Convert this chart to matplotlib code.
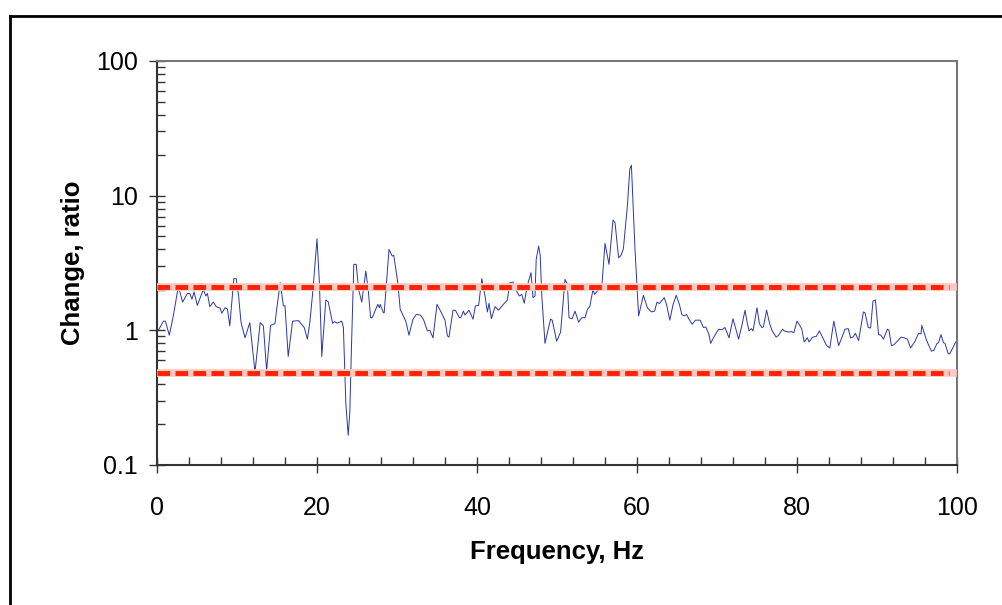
import matplotlib.pyplot as plt
from matplotlib.ticker import FixedLocator, NullFormatter
from matplotlib.lines import Line2D

plt.rcParams['font.family'] = ['Liberation Sans', 'DejaVu Sans']

freq = [0.0, 0.8, 1.05, 1.54, 2.04, 2.67, 3.2, 3.8, 4.1, 4.37, 4.63, 5.04, 5.79, 6.1, 6.3, 6.6,
        7.04, 7.4, 7.9, 8.1, 8.5, 8.8, 9.1, 9.6, 9.9, 10.2, 10.5, 11.0, 11.6, 12.25, 12.9, 13.3,
        13.7, 14.2, 14.75, 14.9, 15.4, 15.8, 16.0, 16.4, 16.95, 17.7, 18.4, 18.8, 19.1, 19.5,
        20.0, 20.3, 20.6, 21.1, 21.4, 21.95, 22.2, 22.5, 23.1, 23.3, 23.6, 23.9, 24.1, 24.3,
        24.6, 24.9, 25.2, 25.6, 26.1, 26.4, 26.7, 26.9, 27.6, 27.8, 27.9, 28.3, 28.4, 29.0,
        29.4, 29.6, 30.1, 30.4, 31.1, 31.5, 32.0, 32.4, 32.9, 33.3, 33.8, 34.1, 34.5, 35.0,
        35.5, 36.0, 36.3, 36.5, 37.0, 37.3, 37.8, 38.0, 38.3, 38.5, 39.0, 39.5, 39.8, 40.2,
        40.6, 41.0, 41.3, 41.5, 41.8, 42.25, 42.7, 43.3, 43.8, 44.1, 44.5, 45.0, 45.3, 45.6,
        45.9, 46.3, 46.75, 47.0, 47.25, 47.4, 47.7, 47.9, 48.1, 48.5, 48.8, 49.2, 49.4, 49.96,
        50.45, 51.0, 51.3, 51.5, 51.9, 52.25, 52.7, 53.1, 53.5, 53.8, 54.1, 54.5, 54.7, 55.2,
        55.6, 56.0, 56.5, 57.0, 57.25, 57.7, 58.0, 58.3, 58.5, 58.8, 59.1, 59.3, 59.75, 60.0,
        60.2, 60.8, 61.3, 61.8, 62.2, 62.5, 62.8, 63.4, 63.7, 64.1, 64.5, 64.9, 65.3, 65.6,
        65.9, 66.2, 66.5, 66.9, 67.3, 67.9, 68.3, 68.6, 69.0, 69.2, 69.6, 70.2, 70.6, 71.0,
        71.5, 72.0, 72.3, 72.7, 73.1, 73.5, 73.8, 74.0, 74.3, 74.5, 75.0, 75.3, 75.6, 75.8,
        76.2, 76.6, 76.9, 77.4, 77.7, 78.2, 78.4, 79.0, 79.3, 79.6, 80.0, 80.3, 80.6, 80.9,
        81.3, 81.5, 81.95, 82.4, 82.8, 83.3, 83.7, 84.1, 84.6, 85.2, 85.6, 86.0, 86.4, 86.7,
        87.0, 87.3, 87.7, 88.3, 88.5, 88.9, 89.2, 89.5, 89.8, 90.2, 90.5, 90.8, 91.3, 91.5,
        91.8, 92.1, 92.45, 93.0, 93.4, 93.8, 94.2, 94.7, 95.2, 95.5, 95.6, 95.8, 96.2, 96.8,
        97.1, 97.5, 97.7, 98.0, 98.3, 98.5, 98.9, 99.1, 99.75, 100.0]

change = [0.96, 1.17, 1.17, 0.92, 1.28, 2.13, 1.62, 1.88, 1.88, 1.70, 1.93, 1.53, 2.01, 1.80, 1.88, 1.50,
          1.62, 1.50, 1.46, 1.34, 1.47, 1.44, 1.08, 2.42, 2.42, 1.80, 1.15, 0.88, 1.14, 0.49, 1.14, 1.08,
          0.50, 1.09, 1.12, 1.35, 2.26, 1.52, 1.52, 0.64, 1.17, 1.18, 1.05, 0.86, 1.14, 2.01,
          4.79, 2.26, 0.64, 1.68, 1.63, 1.13, 1.16, 1.13, 1.17, 1.05, 0.29, 0.166, 0.245, 0.72,
          3.09, 3.09, 2.01, 1.62, 2.76, 2.01, 1.24, 1.24, 1.56, 1.47, 1.56, 1.35, 1.35, 3.99,
          3.56, 3.60, 2.26, 1.43, 1.17, 0.92, 1.21, 1.31, 1.30, 1.21, 0.99, 1.00, 0.88, 1.56,
          1.37, 1.19, 0.91, 0.89, 1.41, 1.41, 1.24, 1.25, 1.39, 1.30, 1.41, 1.21, 1.52, 1.53,
          2.42, 1.80, 1.37, 1.59, 1.22, 1.50, 1.41, 1.56, 1.68, 2.26, 2.28, 1.93, 1.80, 1.85,
          1.59, 2.16, 2.68, 1.75, 1.80, 3.36, 4.22, 3.60, 1.80, 0.80, 0.96, 1.21, 1.19, 0.83,
          0.97, 2.39, 2.20, 1.24, 1.22, 1.39, 1.15, 1.24, 1.24, 1.43, 1.50, 2.01, 1.85, 2.01,
          2.10, 4.42, 3.09, 6.58, 6.30, 3.46, 3.60, 4.04, 5.46, 8.40, 15.8, 16.8, 4.00, 2.13,
          1.28, 1.82, 1.47, 1.37, 1.39, 1.62, 1.58, 1.75, 1.55, 1.19, 1.55, 1.82, 1.56, 1.31,
          1.28, 1.31, 1.21, 1.11, 1.19, 1.19, 1.05, 1.06, 0.93, 0.80, 0.89, 1.02, 1.01, 1.05,
          0.88, 1.22, 1.05, 0.86, 1.08, 1.41, 1.12, 0.99, 1.03, 0.99, 1.47, 1.12, 1.05, 1.06,
          1.41, 1.11, 0.99, 0.89, 0.92, 1.02, 0.99, 0.97, 0.98, 0.96, 1.17, 1.10, 1.02, 0.82,
          0.88, 0.82, 0.89, 0.90, 0.99, 0.86, 0.77, 0.74, 1.17, 0.77, 0.88, 1.02, 1.03, 0.88,
          0.89, 0.95, 0.84, 1.37, 1.35, 1.05, 1.04, 1.65, 1.68, 0.93, 0.92, 0.86, 1.02, 1.00,
          0.77, 0.78, 0.82, 0.89, 0.88, 0.86, 0.74, 0.82, 0.95, 0.94, 1.09, 1.00, 0.84, 0.70,
          0.71, 0.80, 0.81, 0.93, 0.81, 0.80, 0.67, 0.67, 0.80, 0.84]

upper_limit = 2.1
lower_limit = 0.48

fig = plt.figure(figsize=(10.02, 6.05), dpi=100)
ax = fig.add_axes([157 / 1002, 1 - 465 / 605, 800 / 1002, 404 / 605])

ax.plot(freq, change, color='#2838A8', linewidth=0.7)

# control limits: thick red dashes with a faint halo
for lim in [upper_limit, lower_limit]:
    ax.axhline(lim, color='#FFC8C0', linewidth=5.5, zorder=3, xmax=0.995)
    ax.axhline(lim, color='#FF2200', linewidth=3.5, dashes=(2.6, 1.1), zorder=4,
               xmin=0, xmax=0.99)

ax.set_yscale('log')
ax.set_xlim(0, 100)
ax.set_ylim(0.1, 100)

ax.set_xticks([0, 20, 40, 60, 80, 100])
ax.xaxis.set_minor_locator(FixedLocator([x for x in range(0, 101, 4) if x % 20 != 0]))
ax.set_yticks([0.1, 1, 10, 100])
ax.set_yticklabels(['0.1', '1', '10', '100'])
ax.yaxis.set_minor_formatter(NullFormatter())

ax.tick_params(which='major', direction='inout', length=12, width=1, labelsize=18, color='#333333')
ax.tick_params(which='minor', direction='in', length=6, width=1, color='#333333')
ax.tick_params(axis='x', which='major', pad=16)
ax.tick_params(axis='y', which='major', pad=8)

for side in ['top', 'right']:
    ax.spines[side].set_color('#777777')
    ax.spines[side].set_linewidth(1.5)
for side in ['left', 'bottom']:
    ax.spines[side].set_color('#333333')
    ax.spines[side].set_linewidth(1.5)

ax.set_xlabel('Frequency, Hz', fontsize=18.5, fontweight='bold', labelpad=15)
ax.set_ylabel('Change, ratio', fontsize=18.5, fontweight='bold', labelpad=8)

# outer chart border (only left and top edges visible)
fig.add_artist(Line2D([10 / 1002, 10 / 1002], [0, 1 - 16 / 605], color='black', linewidth=2,
                      transform=fig.transFigure))
fig.add_artist(Line2D([10 / 1002, 1], [1 - 16 / 605, 1 - 16 / 605], color='black', linewidth=2,
                      transform=fig.transFigure))

fig.savefig('out.png', dpi=100)
